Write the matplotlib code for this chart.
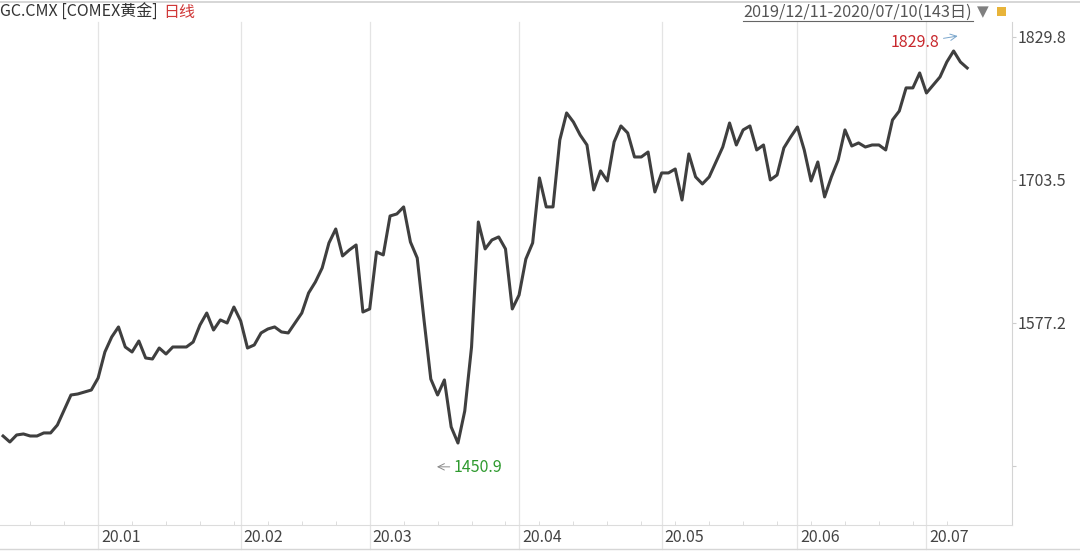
import matplotlib
matplotlib.use("Agg")
import matplotlib.pyplot as plt
import matplotlib.transforms as mtransforms
from matplotlib.lines import Line2D
from matplotlib.patches import Rectangle

plt.rcParams['font.family'] = ['Noto Sans CJK SC', 'DejaVu Sans']

# daily closes, 2019/12/11 - 2020/07/10 (143 trading days)
closes = [
    1477.4, 1472.1, 1478.3, 1479.2, 1477.4, 1477.4, 1480.1, 1480.1, 1487.1, 1500.4,
    1513.6, 1514.5, 1516.3, 1518.0, 1528.6, 1551.6, 1564.8, 1573.7, 1556.0, 1551.6,
    1561.3, 1546.3, 1545.4, 1555.1, 1549.8, 1556.0, 1556.0, 1556.0, 1560.4, 1575.4,
    1586.0, 1571.0, 1579.9, 1577.2, 1591.3, 1579.0, 1555.1, 1557.8, 1568.4, 1571.9,
    1573.7, 1569.3, 1568.4, 1577.2, 1586.0, 1603.7, 1613.4, 1625.8, 1647.9, 1660.2,
    1636.4, 1641.7, 1646.1, 1586.9, 1589.6, 1639.9, 1637.3, 1671.7, 1673.5, 1679.7,
    1648.7, 1634.6, 1579.9, 1527.7, 1513.6, 1526.9, 1485.4, 1471.2, 1499.5, 1556.0,
    1666.4, 1642.6, 1650.5, 1653.2, 1642.6, 1589.6, 1601.9, 1633.7, 1647.9, 1705.3,
    1679.7, 1679.7, 1738.8, 1762.7, 1754.7, 1743.2, 1734.4, 1694.7, 1711.5, 1702.6,
    1737.1, 1751.2, 1745.0, 1723.8, 1723.8, 1728.2, 1692.9, 1709.7, 1709.7, 1713.2,
    1685.8, 1726.5, 1706.2, 1700.0, 1706.2, 1719.4, 1732.6, 1753.8, 1734.4, 1747.7,
    1751.2, 1730.0, 1734.4, 1703.5, 1707.9, 1731.8, 1741.5, 1750.3, 1730.0, 1702.6,
    1719.4, 1688.5, 1706.2, 1721.2, 1747.7, 1733.5, 1736.2, 1732.6, 1734.4, 1734.4,
    1730.0, 1756.5, 1764.4, 1784.8, 1784.8, 1798.0, 1780.3, 1787.4, 1794.5, 1807.7,
    1817.4, 1807.7, 1802.4,
]

# first trading day of each month (index into closes)
month_idx = [14, 35, 54, 76, 97, 117, 136]
month_labels = ['20.01', '20.02', '20.03', '20.04', '20.05', '20.06', '20.07']

y_ticks = [1450.9, 1577.2, 1703.5, 1829.8]
y_tick_labels = ['', '1577.2', '1703.5', '1829.8']
period_high = 1829.8
period_low = 1450.9

W, H = 1080, 551
fig = plt.figure(figsize=(W / 100, H / 100), dpi=100)
fig.patch.set_facecolor('white')

ax_left, ax_right, ax_top, ax_bot = 0, 1012, 22, 525
ax = fig.add_axes([ax_left / W, (H - ax_bot) / H, (ax_right - ax_left) / W, (ax_bot - ax_top) / H])

x = list(range(len(closes)))
ax.plot(x, closes, color='#3f3f3f', lw=2.2, solid_joinstyle='round', zorder=3)

ax.set_xlim(-0.45, 148.6)
ax.set_ylim(1398.8, 1843.0)

# month grid lines running down through the label strip
trans = mtransforms.blended_transform_factory(ax.transData, ax.transAxes)
for i in month_idx:
    ax.plot([i, i], [-(549 - ax_bot) / (ax_bot - ax_top), 1], color='#e4e4e4', lw=0.9,
            transform=trans, clip_on=False, zorder=1)

ax.set_xticks(month_idx)
ax.set_xticklabels(month_labels)
ax.set_xticks(range(4, len(closes), 5), minor=True)
ax.tick_params(axis='x', which='major', length=0, pad=3, labelsize=11.5, labelcolor='#444444')
ax.tick_params(axis='x', which='minor', length=3, direction='in', color='#d8d8d8')
offset = mtransforms.ScaledTranslation(3 / 100, 0, fig.dpi_scale_trans)
for lab in ax.get_xticklabels():
    lab.set_horizontalalignment('left')
    lab.set_transform(lab.get_transform() + offset)

ax.yaxis.tick_right()
ax.set_yticks(y_ticks)
ax.set_yticklabels(y_tick_labels)
ax.tick_params(axis='y', length=3, color='#cccccc', pad=1, labelsize=11.5, labelcolor='#444444')

for s in ['top', 'left']:
    ax.spines[s].set_visible(False)
ax.spines['right'].set_color('#d4d4d4')
ax.spines['bottom'].set_color('#dcdcdc')

# high / low marks
ax.annotate('1829.8', xy=(140.6, period_high + 0.8), xytext=(137.9, 1824.5),
            ha='right', va='center', color='#c8282d', fontsize=11.5,
            arrowprops=dict(arrowstyle='->', color='#7aa6cc', lw=0.7, shrinkA=1, shrinkB=0))
ax.annotate('1450.9', xy=(63.9, 1450.2), xytext=(66.4, 1450.0),
            ha='left', va='center', color='#2f9a2f', fontsize=11.5,
            arrowprops=dict(arrowstyle='->', color='#8a8a8a', lw=0.7, shrinkA=1, shrinkB=0))

# header
fig.add_artist(Line2D([0, 1], [1 - 1.5 / H, 1 - 1.5 / H], color='#d0d0d0', lw=1.2))
fig.add_artist(Line2D([0, 1], [1 - 549 / H, 1 - 549 / H], color='#d6d6d6', lw=1.0))
fig.text(0 / W, 1 - 12 / H, 'GC.CMX [COMEX黄金]', ha='left', va='center', fontsize=11.5, color='#333333')
fig.text(163 / W, 1 - 12 / H, '日线', ha='left', va='center', fontsize=11.5, color='#d03838')
fig.text(743 / W, 1 - 12 / H, '2019/12/11-2020/07/10(143日)', ha='left', va='center',
         fontsize=11.7, color='#555555')
fig.add_artist(Line2D([743 / W, 973 / W], [1 - 21 / H, 1 - 21 / H], color='#666666', lw=0.8))
fig.text(983 / W, 1 - 12 / H, '▼', ha='center', va='center', fontsize=11, color='#808080',
         family=['DejaVu Sans'])
fig.add_artist(Rectangle((997 / W, 1 - 16 / H), 9 / W, 9 / H, transform=fig.transFigure,
                         facecolor='#e8b43a', edgecolor='none'))

fig.savefig('out.png', dpi=100)
